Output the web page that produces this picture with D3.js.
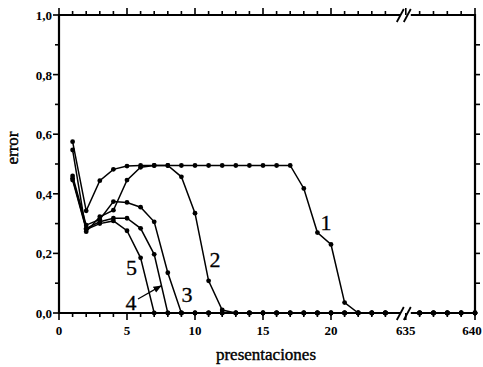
<!DOCTYPE html>
<html>
<head>
<meta charset="utf-8">
<script src="https://cdn.jsdelivr.net/npm/d3@7"></script>
<style>
  body { margin: 0; background: #fff; }
  svg { display: block; }
  text { font-family: "Liberation Serif", "Times New Roman", serif; fill: #000; }
</style>
</head>
<body>
<div id="chart"></div>
<script>
// presentaciones (x) -- before and after the axis break
const presentaciones = [1,2,3,4,5,6,7,8,9,10,11,12,13,14,15,16,17,18,19,20,21,22,23,24, 636,637,638,639,640]

// error for each curve, one value per presentacion
const curva1 = [0.575,0.343,0.444,0.482,0.493,0.495,0.495,0.495,0.495,0.495,0.495,0.495,0.495,0.495,0.495,0.495,0.495,0.418,0.270,0.230,0.035,0,0,0, 0,0,0,0,0]
const curva2 = [0.547,0.273,0.323,0.345,0.446,0.489,0.495,0.495,0.457,0.335,0.108,0.010,0,0,0,0,0,0,0,0,0,0,0,0, 0,0,0,0,0]
const curva3 = [0.460,0.295,0.314,0.374,0.371,0.355,0.306,0.135,0,0,0,0,0,0,0,0,0,0,0,0,0,0,0,0, 0,0,0,0,0]
const curva4 = [0.452,0.284,0.306,0.318,0.318,0.284,0.197,0,0,0,0,0,0,0,0,0,0,0,0,0,0,0,0,0, 0,0,0,0,0]
const curva5 = [0.446,0.280,0.300,0.309,0.276,0.185,0,0,0,0,0,0,0,0,0,0,0,0,0,0,0,0,0,0, 0,0,0,0,0]

const curveNames = ["1","2","3","4","5"]
// where each curve number is written (data units)
const labelX = [19.63, 11.47, 9.41, 5.29, 5.33]
const labelY = [0.279, 0.154, 0.037, 0.010, 0.128]

const xTicksMajor = [0,5,10,15,20,635,640]
const xTickLabels = ["0","5","10","15","20","635","640"]
const xTicksMinor = [1,2,3,4,6,7,8,9,11,12,13,14,16,17,18,19,21,22,23,24,636,637,638,639]
const yTicksMajor = [0,0.2,0.4,0.6,0.8,1.0]
const yTickLabels = ["0,0","0,2","0,4","0,6","0,8","1,0"]
const yTicksMinor = [0.1,0.3,0.5,0.7,0.9]
const yTicksRight = [0.1,0.2,0.3,0.4,0.5,0.6,0.7,0.8,0.9]

const W = 483, H = 367
const mLeft = 59, mRight = 475, mTop = 15, mBottom = 313
const breakAt = 25.5

const svg = d3.select("#chart").append("svg").attr("width", W).attr("height", H)

const x = d3.scaleLinear()
    .domain([0, breakAt, 635, 640])
    .range([mLeft, mLeft + breakAt * 13.6, mLeft + breakAt * 13.6, mRight])
const y = d3.scaleLinear().domain([0, 1]).range([mBottom, mTop])
const xb = x(breakAt)

// frame
const frame = svg.append("g").attr("stroke", "#000").attr("stroke-width", 2.2).attr("fill", "none")
frame.append("line").attr("x1", mLeft).attr("x2", mLeft).attr("y1", mTop - 1).attr("y2", mBottom + 1)
frame.append("line").attr("x1", mRight).attr("x2", mRight).attr("y1", mTop - 1).attr("y2", mBottom + 1)
;[mTop, mBottom].forEach(function(yy){
    frame.append("line").attr("x1", mLeft).attr("x2", xb - 5).attr("y1", yy).attr("y2", yy)
    frame.append("line").attr("x1", xb + 5).attr("x2", mRight).attr("y1", yy).attr("y2", yy)
    frame.append("line").attr("x1", xb - 9).attr("y1", yy + 7).attr("x2", xb - 2).attr("y2", yy - 6).attr("stroke-width", 1.8)
    frame.append("line").attr("x1", xb - 2).attr("y1", yy + 7).attr("x2", xb + 5).attr("y2", yy - 6).attr("stroke-width", 1.8)
})

// tick marks, all pointing outward (drawn in the frame group)
function xTicks(vals, yy, len){
    frame.append("g").attr("stroke-width", 1.6).selectAll("line").data(vals).enter().append("line")
        .attr("x1", d => x(d)).attr("x2", d => x(d)).attr("y1", yy).attr("y2", yy + len)
}
function yTicks(vals, xx, len){
    frame.append("g").attr("stroke-width", 1.6).selectAll("line").data(vals).enter().append("line")
        .attr("y1", d => y(d)).attr("y2", d => y(d)).attr("x1", xx).attr("x2", xx + len)
}
xTicks(xTicksMajor, mBottom, 7)
xTicks(xTicksMinor, mBottom, 4)
xTicks(xTicksMajor, mTop, -7)
xTicks(xTicksMinor, mTop, -4)
yTicks(yTicksMajor, mLeft, -6)
yTicks(yTicksMinor, mLeft, -4)
yTicks(yTicksRight, mRight, 5)

// tick labels
svg.append("g").selectAll("text").data(xTicksMajor).enter().append("text")
    .attr("x", d => Math.min(x(d), W - 11)).attr("y", mBottom + 22)
    .attr("text-anchor", "middle").attr("font-size", "13px").attr("font-weight", "bold")
    .text((d, i) => xTickLabels[i])
svg.append("g").selectAll("text").data(yTicksMajor).enter().append("text")
    .attr("x", mLeft - 7).attr("y", d => y(d) + 5)
    .attr("text-anchor", "end").attr("font-size", "13px").attr("font-weight", "bold")
    .text((d, i) => yTickLabels[i])

// axis titles
svg.append("text").attr("x", 266).attr("y", 360).attr("text-anchor", "middle")
    .attr("font-size", "17px").attr("stroke", "#000").attr("stroke-width", 0.4).text("presentaciones")
svg.append("text").attr("transform", "translate(18,148) rotate(-90)").attr("text-anchor", "middle")
    .attr("font-size", "17px").attr("stroke", "#000").attr("stroke-width", 0.4).text("error")

// curves
const series = [curva1, curva2, curva3, curva4, curva5]
const line = d3.line().x(d => x(d[0])).y(d => y(d[1]))
series.forEach(function(vals){
    const pts = presentaciones.map((p, i) => [p, vals[i]])
    const before = pts.filter(d => d[0] < breakAt)
    const after = pts.filter(d => d[0] > breakAt)
    ;[before, after].forEach(function(seg){
        svg.append("path").datum(seg).attr("d", line)
            .attr("fill", "none").attr("stroke", "#000").attr("stroke-width", 1.5)
    })
    svg.append("g").selectAll("circle").data(pts).enter().append("circle")
        .attr("cx", d => x(d[0])).attr("cy", d => y(d[1])).attr("r", 2.4).attr("fill", "#000")
})

// curve numbers
svg.append("g").selectAll("text").data(curveNames).enter().append("text")
    .attr("x", (d, i) => x(labelX[i])).attr("y", (d, i) => y(labelY[i]))
    .attr("text-anchor", "middle").attr("font-size", "22px")
    .attr("stroke", "#000").attr("stroke-width", 0.3).text(d => d)

// arrow pointing at curve 4
svg.append("defs").append("marker").attr("id", "head")
    .attr("viewBox", "0 0 10 10").attr("refX", 9).attr("refY", 5)
    .attr("markerWidth", 7).attr("markerHeight", 7).attr("orient", "auto")
    .append("path").attr("d", "M0,1L10,5L0,9Z").attr("fill", "#000")
svg.append("line")
    .attr("x1", x(5.81)).attr("y1", y(0.047)).attr("x2", x(7.5)).attr("y2", y(0.091))
    .attr("stroke", "#000").attr("stroke-width", 1.2).attr("marker-end", "url(#head)")
</script>
</body>
</html>
